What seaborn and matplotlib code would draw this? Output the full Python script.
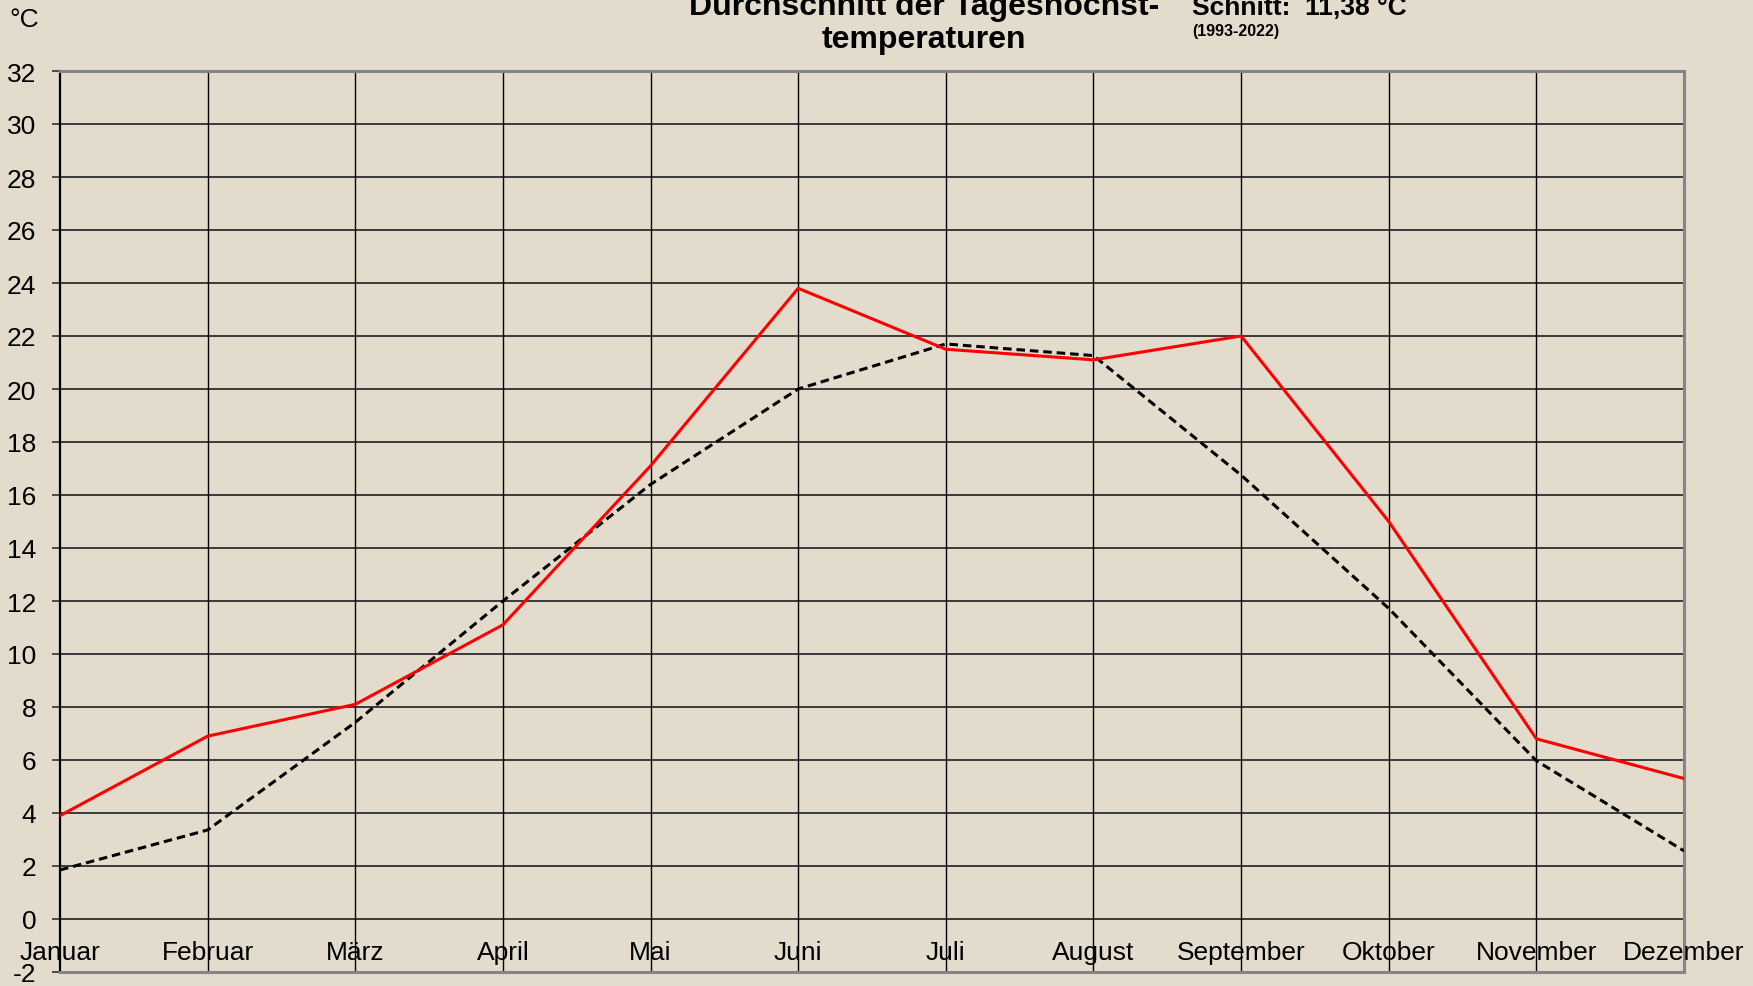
import matplotlib
matplotlib.use("Agg")
import matplotlib.pyplot as plt
import seaborn as sns
import pandas as pd
import numpy as np

months = ["Januar", "Februar", "März", "April", "Mai", "Juni", "Juli",
          "August", "September", "Oktober", "November", "Dezember"]
year_values = [3.9, 6.9, 8.1, 11.1, 17.1, 23.8, 21.5, 21.1, 22.0, 15.0, 6.8, 5.3]
mean_values = [1.85, 3.36, 7.42, 12.0, 16.4, 20.0, 21.7, 21.26, 16.75, 11.72, 5.97, 2.57]
y_ticks = list(range(-2, 33, 2))
title_text = "Durchschnitt der Tageshöchst-\ntemperaturen"
avg_text = "Schnitt:  11,38 °C"
period_text = "(1993-2022)"
unit_text = "°C"

sns.set_theme(style="white")
plt.rcParams['font.family'] = ['Liberation Sans', 'DejaVu Sans']

bg = "#E3DCCD"
fig = plt.figure(figsize=(17.53, 9.87), dpi=100, facecolor=bg)
ax = fig.add_axes([60/1753, 1 - 973/987, (1684 - 60)/1753, (973 - 72)/987])
ax.set_facecolor(bg)

df = pd.DataFrame({"m": np.arange(len(months)), "year": year_values, "mean": mean_values})

sns.lineplot(data=df, x="m", y="mean", ax=ax, color="black", linewidth=2.2,
             linestyle="--", zorder=4)
ax.lines[-1].set_dashes((2.8, 1.6))
sns.lineplot(data=df, x="m", y="year", ax=ax, color="#FF0000", linewidth=2.2, zorder=5)

ax.set_xlim(0, len(months) - 1)
ax.set_ylim(y_ticks[0], y_ticks[-1])
ax.set_yticks(y_ticks)
ax.set_yticklabels([str(v) for v in y_ticks], fontsize=19, color="black")
ax.tick_params(axis="y", length=6, width=1.2, color="#333333", pad=11, left=True)
ax.set_xticks(np.arange(len(months)))
ax.set_xticklabels([])
ax.tick_params(axis="x", length=0)
ax.set_xlabel("")
ax.set_ylabel("")

for v in y_ticks[1:-1]:
    ax.axhline(v, color="#3a3a3a", linewidth=1.4, zorder=1)
for i in range(1, len(months) - 1):
    ax.axvline(i, color="black", linewidth=1.0, zorder=1)

for i, m in enumerate(months):
    ax.text(i, -1.5, m, ha="center", va="baseline", fontsize=19, color="black",
            clip_on=False, zorder=6)

for side in ["top", "bottom", "right"]:
    ax.spines[side].set_color("#858585")
    ax.spines[side].set_linewidth(2.2)
    ax.spines[side].set_visible(True)
ax.spines["left"].set_color("black")
ax.spines["left"].set_linewidth(1.6)
ax.spines["left"].set_visible(True)

fig.text(924/1753, 1 - 48/987, title_text, ha="center", va="baseline",
         fontsize=23, fontweight="bold", linespacing=1.15, color="black")
fig.text(1192/1753, 1 - 15/987, avg_text, ha="left", va="baseline",
         fontsize=19, fontweight="bold", color="black")
fig.text(1192/1753, 1 - 36/987, period_text, ha="left", va="baseline",
         fontsize=11.5, fontweight="bold", color="black")
fig.text(9/1753, 1 - 27/987, unit_text, ha="left", va="baseline",
         fontsize=19, color="black")

fig.savefig("out.png", dpi=100, facecolor=bg)
